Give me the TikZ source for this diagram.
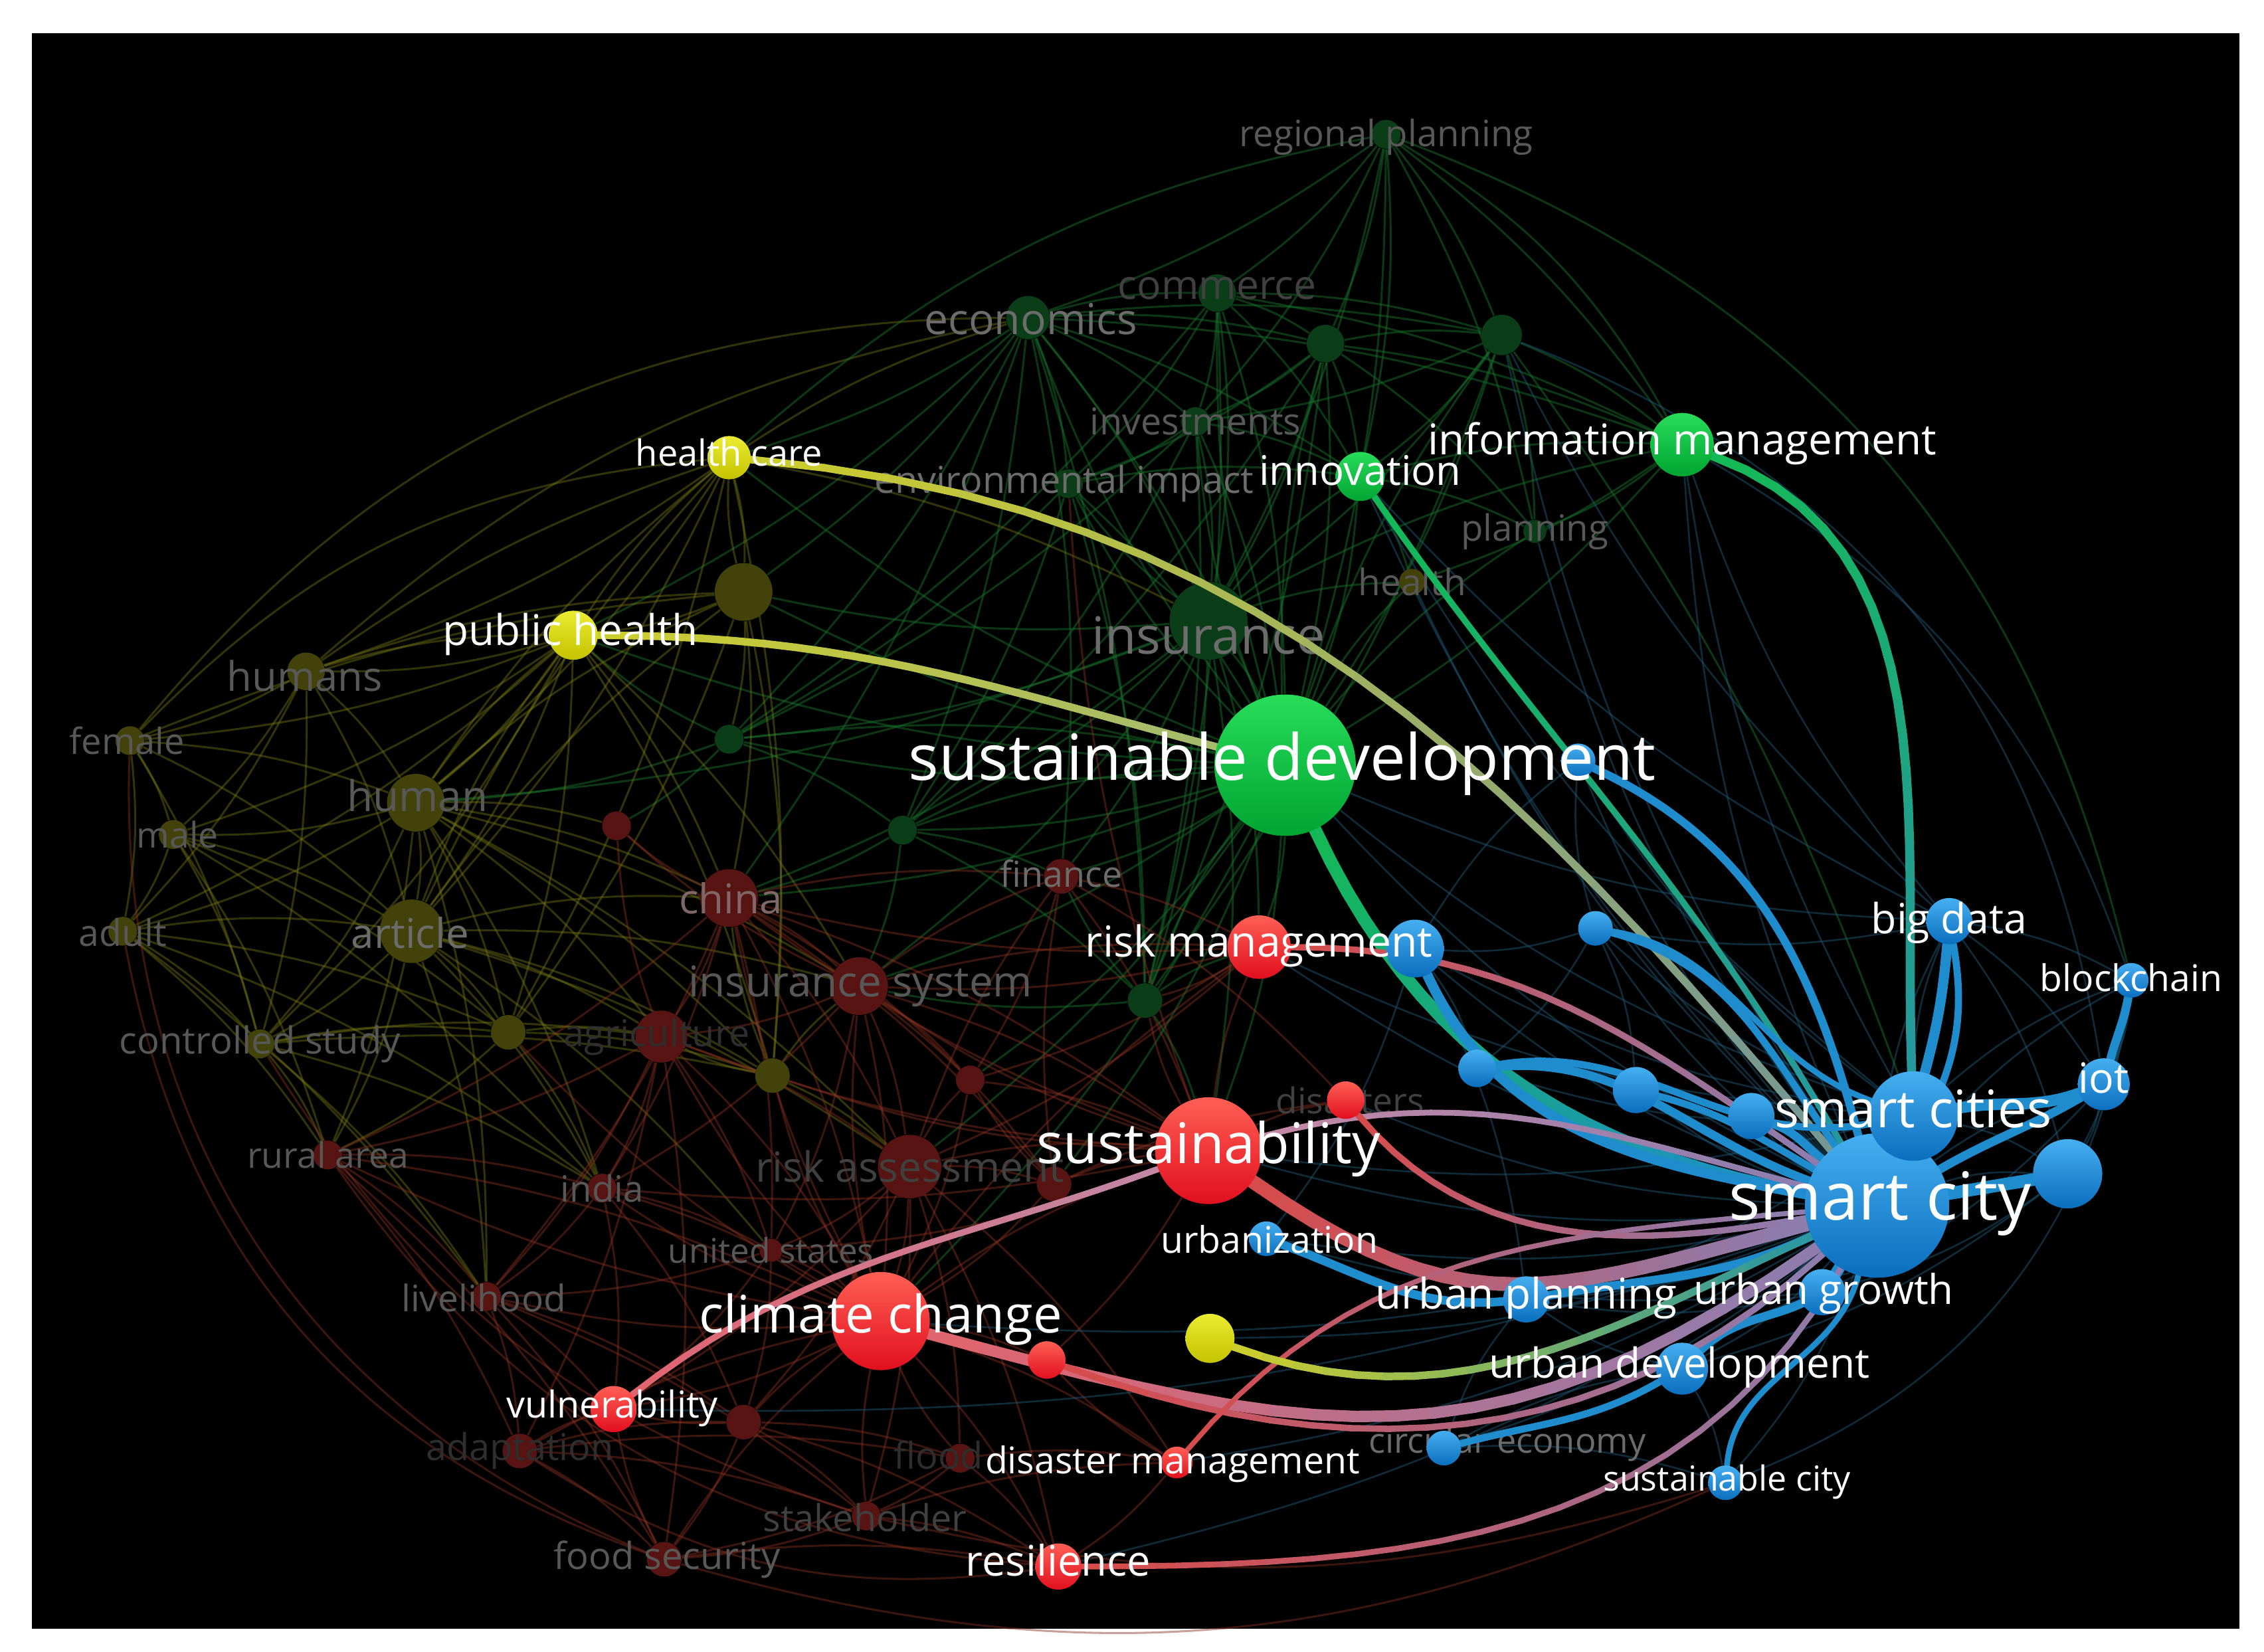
\documentclass[tikz,border=0pt]{standalone}
\usepackage{fontspec}
\setmainfont{Open Sans}
\pgfdeclarelayer{Lbg}
\pgfdeclarelayer{Lfe}
\pgfdeclarelayer{Ldn}
\pgfdeclarelayer{Ldl}
\pgfdeclarelayer{Lbe}
\pgfdeclarelayer{Llab}
\pgfsetlayers{Lbg,Lfe,Ldn,Ldl,Lbe,main,Llab}
\definecolor{bluT}{RGB}{70,175,240}
\definecolor{bluB}{RGB}{10,110,190}
\definecolor{grnT}{RGB}{40,220,90}
\definecolor{grnB}{RGB}{0,165,50}
\definecolor{redT}{RGB}{255,95,85}
\definecolor{redB}{RGB}{225,15,30}
\definecolor{yelT}{RGB}{235,235,50}
\definecolor{yelB}{RGB}{195,195,0}
\definecolor{dgrn}{RGB}{11,62,24}
\definecolor{dred}{RGB}{88,20,18}
\definecolor{dyel}{RGB}{66,66,10}
\definecolor{fgr}{RGB}{22,110,42}
\definecolor{fye}{RGB}{115,115,20}
\definecolor{frd}{RGB}{135,48,32}
\definecolor{fbl}{RGB}{30,85,115}
\definecolor{eyel}{RGB}{205,205,45}
\definecolor{eyg}{RGB}{165,185,110}
\definecolor{egry}{RGB}{115,150,150}
\definecolor{egrn}{RGB}{20,185,85}
\definecolor{etea}{RGB}{40,150,160}
\definecolor{eblu}{RGB}{30,140,205}
\definecolor{ered}{RGB}{215,75,75}
\definecolor{epur}{RGB}{140,125,175}
\definecolor{epnk}{RGB}{225,100,110}
\definecolor{elpk}{RGB}{195,135,165}
\definecolor{gA}{RGB}{108,108,108}
\definecolor{gB}{RGB}{88,88,88}
\definecolor{gC}{RGB}{64,64,64}
\definecolor{gD}{RGB}{46,46,46}
\definecolor{gP}{RGB}{128,102,102}
\newcommand\gedge[6]{%
  \path (#1) to[#3]
    coordinate[pos=0](gq0) coordinate[pos=.05](gq1) coordinate[pos=.1](gq2)
    coordinate[pos=.15](gq3) coordinate[pos=.2](gq4) coordinate[pos=.25](gq5)
    coordinate[pos=.3](gq6) coordinate[pos=.35](gq7) coordinate[pos=.4](gq8)
    coordinate[pos=.45](gq9) coordinate[pos=.5](gq10) coordinate[pos=.55](gq11)
    coordinate[pos=.6](gq12) coordinate[pos=.65](gq13) coordinate[pos=.7](gq14)
    coordinate[pos=.75](gq15) coordinate[pos=.8](gq16) coordinate[pos=.85](gq17)
    coordinate[pos=.9](gq18) coordinate[pos=.95](gq19) coordinate[pos=1](gq20) (#2);
  \foreach \k in {0,...,19}{%
    \pgfmathtruncatemacro\kn{\k+1}%
    \pgfmathtruncatemacro\kp{\k*5+2}%
    \draw[line width=#6, line cap=round, color=#5!\kp!#4] (gq\k) -- (gq\kn);
  }%
}
\begin{document}
\begin{tikzpicture}[x=0.02cm,y=-0.02cm,
  bub/.style={circle,inner sep=0pt,minimum size=#1*0.04cm,draw=none},
  Nb/.style={bub=#1,top color=bluT,bottom color=bluB},
  Ng/.style={bub=#1,top color=grnT,bottom color=grnB},
  Nr/.style={bub=#1,top color=redT,bottom color=redB},
  Ny/.style={bub=#1,top color=yelT,bottom color=yelB},
  Dg/.style={bub=#1,fill=dgrn},
  Dr/.style={bub=#1,fill=dred},
  Dy/.style={bub=#1,fill=dyel},
  lab/.style={text=white,font=\fontsize{#1}{#1}\selectfont,inner sep=0pt,execute at begin node=\strut},
  dlab/.style 2 args={text=#2,font=\fontsize{#1}{#1}\selectfont,inner sep=0pt},
  fg/.style={draw=fgr,line width=.8pt,opacity=.5},
  fy/.style={draw=fye,line width=.8pt,opacity=.45},
  fr/.style={draw=frd,line width=.8pt,opacity=.45},
  fb/.style={draw=fbl,line width=.7pt,opacity=.5},
  be/.style={draw=eblu,line width=#1,line cap=round}]
\useasboundingbox (0,0) rectangle (1568,1144);
\begin{pgfonlayer}{Lbg}
\fill[white] (0,0) rectangle (1568,1144);
\fill[black] (22,23) rectangle (1551,1128);
\end{pgfonlayer}
% ---------- dim nodes ----------
\begin{pgfonlayer}{Ldn}
\node[Dg=10] (rp) at (960,93) {};
\node[Dg=15] (eco) at (712,220) {};
\node[Dg=13] (com) at (843,203) {};
\node[Dg=13] (gx1) at (918,238) {};
\node[Dg=14] (gx2) at (1040,232) {};
\node[Dg=10] (inv) at (828,292) {};
\node[Dg=27] (ins) at (837,430) {};
\node[Dg=10] (env) at (740,335) {};
\node[Dg=10] (gx3) at (505,512) {};
\node[Dg=10] (gx4) at (625,575) {};
\node[Dg=12] (gx5) at (793,693) {};
\node[Dg=8] (pl) at (1063,368) {};
\node[Dy=9] (hlth) at (978,403) {};
\node[Dy=20] (yx2) at (515,410) {};
\node[Dy=13] (hum) at (212,465) {};
\node[Dy=10] (fem) at (90,513) {};
\node[Dy=20] (hmn) at (288,556) {};
\node[Dy=10] (male) at (120,578) {};
\node[Dy=10] (adult) at (85,645) {};
\node[Dy=22] (art) at (285,645) {};
\node[Dy=10] (cs) at (180,723) {};
\node[Dy=12] (yx3) at (352,715) {};
\node[Dy=12] (yx4) at (535,745) {};
\node[Dr=20] (chn) at (505,622) {};
\node[Dr=20] (isy) at (595,683) {};
\node[Dr=18] (agr) at (458,718) {};
\node[Dr=22] (ra) at (630,808) {};
\node[Dr=12] (rx2) at (730,820) {};
\node[Dr=10] (rx3) at (427,572) {};
\node[Dr=12] (fin) at (735,607) {};
\node[Dr=10] (rx4) at (672,748) {};
\node[Dr=10] (rua) at (227,800) {};
\node[Dr=10] (ind) at (417,823) {};
\node[Dr=8] (us) at (534,866) {};
\node[Dr=10] (liv) at (337,898) {};
\node[Dr=12] (ada) at (360,1005) {};
\node[Dr=12] (rx5) at (515,985) {};
\node[Dr=10] (fld) at (665,1010) {};
\node[Dr=10] (stk) at (600,1050) {};
\node[Dr=12] (fs) at (460,1080) {};
\end{pgfonlayer}
% ---------- bright nodes ----------
\node[Nb=50] (sc) at (1300,835) {};
\node[Nb=31] (scs) at (1325,773) {};
\node[Nb=24] (bx1) at (1432,813) {};
\node[Nb=18] (iot) at (1457,751) {};
\node[Nb=12] (bc) at (1476,679) {};
\node[Nb=16] (bd) at (1350,638) {};
\node[Nb=12] (bx2) at (1105,643) {};
\node[Nb=20] (rmb) at (980,657) {};
\node[Nb=13] (bx3) at (1023,740) {};
\node[Nb=16] (bx4) at (1133,755) {};
\node[Nb=16] (bx5) at (1213,773) {};
\node[Nb=12] (ubz) at (877,858) {};
\node[Nb=16] (up) at (1057,900) {};
\node[Nb=16] (ug) at (1262,895) {};
\node[Nb=18] (ud) at (1165,948) {};
\node[Nb=12] (ce) at (1000,1003) {};
\node[Nb=12] (scy) at (1195,1027) {};
\node[Nb=12] (sdb) at (1093,527) {};
\node[Ng=49] (sd) at (890,530) {};
\node[Ng=22] (im) at (1165,308) {};
\node[Ng=17] (inn) at (942,330) {};
\node[Ny=15] (hc) at (505,317) {};
\node[Ny=17] (ph) at (397,440) {};
\node[Ny=17] (yb) at (838,927) {};
\node[Nr=37] (sus) at (837,797) {};
\node[Nr=34] (cc) at (610,915) {};
\node[Nr=22] (rm) at (872,656) {};
\node[Nr=13] (dis) at (932,762) {};
\node[Nr=13] (rx) at (725,942) {};
\node[Nr=16] (vul) at (425,976) {};
\node[Nr=11] (dm) at (815,1013) {};
\node[Nr=16] (res) at (733,1085) {};
% ---------- faint edges ----------
\begin{pgfonlayer}{Lfe}
\foreach \s/\tl in {rp/{eco,com,gx1,gx2,inv,ins,inn,im,sd,pl},
  eco/{com,gx1,gx2,inv,ins,inn,sd,gx3,gx4,gx5,env,hc,ph,yx2,im,fin,chn},
  com/{gx1,gx2,inv,ins,inn,im,sd,env,gx5,gx3},
  gx1/{gx2,inv,ins,inn,im,sd,pl,gx5,gx4,env},
  gx2/{im,inn,ins,sd,pl,scs,inv,gx5},
  inv/{ins,inn,sd,env,gx5,gx4,gx3},
  ins/{sd,gx3,gx4,gx5,inn,im,env,hlth,chn,isy,fin,rm,sus,hmn,yx2},
  env/{sd,inn,gx4,gx3,gx5},
  gx3/{gx4,sd,ph,hmn,rx3},
  gx4/{sd,gx5,fin,chn,isy},
  gx5/{sd,rm,sus,isy,fin},
  inn/{sd,im,pl,hlth},
  im/{sd,pl,hlth},
  sd/{fin,rm,gx4,eco,com,gx1,gx2,inv,env,gx3,chn,isy,hlth,pl,ph,hc,yx2,sus,cc,rx2,rx4,ra}}
  {\foreach \t in \tl {\draw[fg] (\s) to[bend left=8] (\t);}}
\foreach \s/\tl in {hum/{fem,hmn,male,adult,art,cs,yx2,ph,hc},
  fem/{hmn,male,adult,art,cs,yx2},
  hmn/{male,adult,art,cs,yx2,ph,hc,yx3,yx4,chn,rx3,isy,agr,ra,rua,ind,liv},
  male/{adult,art,cs,yx3,rua,ind},
  adult/{art,cs,yx3,rua,liv,ind},
  art/{cs,yx2,yx3,yx4,ph,agr,isy,chn,hc,rua,ind,liv,ra,us},
  cs/{yx3,yx4,rua,agr,ind,liv},
  yx2/{ph,hc,yx3,yx4,chn,gx3},
  ph/{hc,yx3,yx4,chn,art,hmn,hum,fem,male,adult,cs,isy},
  hc/{yx3,yx4,hum,hmn,art,yx2,ins,eco},
  yx3/{yx4,agr,rua,ind},
  yx4/{isy,ra,chn,agr}}
  {\foreach \t in \tl {\draw[fy] (\s) to[bend left=8] (\t);}}
\foreach \s/\tl in {chn/{isy,agr,ra,rx2,rx3,fin,rx4,rua,ind,us,liv,cc,sus},
  isy/{agr,ra,rx2,rx3,fin,rx4,ind,us,cc,sus,rm},
  agr/{ra,rx3,rua,ind,us,liv,ada,cc,fs},
  ra/{rx2,rx4,fin,us,cc,sus,fld,stk,res,dm,rx5,vul},
  rx2/{fin,rx4,sus,cc,dis},
  fin/{rx4,rm,sus,dis},
  rx4/{sus,cc},
  rua/{ind,liv,ada,fs,cc},
  ind/{us,liv,cc,vul,rx5},
  us/{cc,liv,rx5,vul},
  liv/{ada,fs,vul,rx5,stk},
  ada/{vul,fs,rx5,stk,fld,cc},
  rx5/{vul,fld,stk,fs,cc,res},
  fld/{stk,fs,res,dm,cc},
  stk/{fs,res,dm,cc},
  fs/{res,vul,cc},
  cc/{sus,vul,res,dm,rx,rm,chn,isy,agr,rua,ind,liv,yx3,yx4},
  sus/{rm,dis,rx,chn,isy,agr,ind,us,yx4,gx5,env},
  rm/{chn,isy,rx4,ra,gx5},
  dm/{res,rx}}
  {\foreach \t in \tl {\draw[fr] (\s) to[bend left=8] (\t);}}
\foreach \s/\tl in {sc/{im,inn,sdb,bx2,rmb,bx3,bx4,bx5,bd,bc,iot,bx1,ubz,up,ug,ud,ce,scy,rm,dis,sd,pl,hlth,gx2,yb,sus,cc,res,dm,vul},
  scs/{bx2,rmb,bx3,bd,bc,bx1,ug,ud,up,sdb,im,inn,sd,rm,sus},
  bd/{bc,iot,bx2,bx1,im,sd,inn,gx2},
  bc/{iot,bx1},
  iot/{bx1,ug},
  bx1/{ug,ud},
  bx2/{rmb,bx3,bx4,sdb},
  rmb/{bx3,up,ubz,sdb},
  ug/{up,ubz},
  ce/{scy,ud,up},
  ud/{scy,up,ug}}
  {\foreach \t in \tl {\draw[fb] (\s) to[bend left=10] (\t);}}
% hull arcs
\draw[fy] (fem) to[bend left=25] (eco);
\draw[fy] (fem) to[bend left=20] (hc);
\draw[fy] (hum) to[bend left=15] (eco);
\draw[fg] (hc) to[bend left=15] (rp);
\draw[fg] (rp) to[bend left=15] (im);
\draw[fg] (rp) to[bend left=28] (bc);
\draw[fb] (im) to[bend left=20] (bc);
\draw[fb] (gx2) to[bend left=30] (iot);
\draw[fr] (adult) to[bend right=30] (fs);
\draw[fr] (fem) to[bend right=35] (fs);
\draw[fr] (cs) to[bend right=20] (stk);
\draw[fr] (rua) to[bend right=25] (res);
\draw[fr] (ada) to[bend right=20] (res);
\draw[fr] (fs) to[bend right=20] (scy);
\draw[fr] (stk) to[bend right=15] (scy);
\draw[fb] (scy) to[bend right=30] (bc);
\end{pgfonlayer}
% ---------- dim labels ----------
\begin{pgfonlayer}{Ldl}
\node[dlab={14.3pt}{gB}] (l-rp) at (960,95) {regional planning};
\node[dlab={16.8pt}{gA}] (l-eco) at (714,221) {economics};
\node[dlab={15.9pt}{gC}] (l-com) at (843,200) {commerce};
\node[dlab={14.6pt}{gB}] (l-inv) at (828,292) {investments};
\node[dlab={14.6pt}{gA}] (l-env) at (737,335) {environmental impact};
\node[dlab={20.2pt}{gA}] (l-ins) at (837,440) {insurance};
\node[dlab={14.3pt}{gB}] (l-pl) at (1063,368) {planning};
\node[dlab={14.4pt}{gB}] (l-hlth) at (978,403) {health};
\node[dlab={16.1pt}{gB}] (l-hum) at (211,468) {humans};
\node[dlab={14.2pt}{gB}] (l-fem) at (88,513) {female};
\node[dlab={16.7pt}{gB}] (l-hmn) at (289,551) {human};
\node[dlab={14pt}{gB}] (l-male) at (123,578) {male};
\node[dlab={14.5pt}{gB}] (l-adult) at (85,646) {adult};
\node[dlab={16.2pt}{gA}] (l-art) at (284,646) {article};
\node[dlab={14.7pt}{gB}] (l-cs) at (180,723) {controlled study};
\node[dlab={16.2pt}{gP}] (l-chn) at (506,622) {china};
\node[dlab={14.1pt}{gA}] (l-fin) at (735,605) {finance};
\node[dlab={16.7pt}{gB}] (l-isy) at (596,683) {insurance system};
\node[dlab={14.6pt}{gD}] (l-agr) at (455,718) {agriculture};
\node[dlab={16.4pt}{gC}] (l-ra) at (630,808) {risk assessment};
\node[dlab={14pt}{gC}] (l-dis) at (935,762) {disasters};
\node[dlab={14pt}{gB}] (l-rua) at (227,800) {rural area};
\node[dlab={14.3pt}{gB}] (l-ind) at (417,823) {india};
\node[dlab={13.4pt}{gB}] (l-us) at (534,866) {united states};
\node[dlab={14.4pt}{gB}] (l-liv) at (335,899) {livelihood};
\node[dlab={14.6pt}{gD}] (l-ada) at (360,1005) {adaptation};
\node[dlab={14.6pt}{gD}] (l-fld) at (650,1008) {flood};
\node[dlab={14.6pt}{gC}] (l-stk) at (599,1051) {stakeholder};
\node[dlab={14.7pt}{gB}] (l-fs) at (462,1080) {food security};
\node[dlab={13.7pt}{gA}] (l-ce) at (1044,1000) {circular economy};
\end{pgfonlayer}
% ---------- bright edges ----------
\begin{pgfonlayer}{Lbe}
\gedge{hc}{sc}{out=-5,in=130}{eyel}{egry}{3pt}
\gedge{ph}{sd}{out=0,in=165}{eyel}{eyg}{3pt}
\gedge{inn}{sc}{out=-55,in=120}{egrn}{etea}{2.5pt}
\gedge{im}{scs}{out=-20,in=92}{egrn}{etea}{3.6pt}
\gedge{sd}{sc}{out=-65,in=170}{egrn}{eblu}{5pt}
\draw[be=3.2pt] (sdb) to[out=-25,in=105] (sc);
\draw[be=4pt] (rmb) to[out=-65,in=170] (sc);
\draw[be=3.4pt] (bx3) to[out=5,in=160] (sc);
\draw[be=2.8pt] (bx3) to[out=10,in=190] (scs);
\draw[be=2.8pt] (bx4) to[out=-15,in=150] (sc);
\draw[be=3.4pt] (bx5) to[out=-20,in=140] (sc);
\draw[be=2.8pt] (bx2) to[out=-15,in=125] (sc);
\draw[be=2.3pt] (bx2) to[out=-10,in=160] (scs);
\draw[be=4pt] (bd) to[out=-95,in=75] (scs);
\draw[be=2.8pt] (bd) to[out=-80,in=60] (sc);
\draw[be=3.4pt] (bc) to[out=-100,in=75] (iot);
\draw[be=4.5pt] (iot) to[out=200,in=10] (scs);
\draw[be=3.4pt] (iot) to[out=-150,in=30] (sc);
\draw[be=5pt] (bx1) -- (sc);
\draw[be=6pt] (scs) -- (sc);
\draw[be=3.4pt] (ubz) to[out=-20,in=185] (up);
\draw[be=3.4pt] (up) to[out=10,in=205] (sc);
\draw[be=3.4pt] (ug) -- (sc);
\draw[be=3.4pt] (ud) to[out=45,in=240] (sc);
\draw[be=2.8pt] (ce) to[out=15,in=210] (ud);
\draw[be=2.3pt] (scy) to[out=85,in=255] (sc);
\gedge{rm}{sc}{out=0,in=145}{ered}{epur}{2.5pt}
\gedge{vul}{sus}{out=38,in=200}{epnk}{elpk}{2.5pt}
\gedge{sus}{sc}{out=15,in=165}{elpk}{epur}{2.3pt}
\gedge{sus}{sc}{out=-35,in=195,looseness=1.2}{ered}{epur}{5.5pt}
\gedge{dis}{sc}{out=-50,in=190}{ered}{epur}{2.5pt}
\gedge{cc}{sc}{out=-15,in=215,looseness=1.15}{epnk}{epur}{4.5pt}
\gedge{rx}{sc}{out=-20,in=222}{ered}{epur}{2.5pt}
\gedge{dm}{sc}{out=50,in=185}{ered}{epur}{2pt}
\gedge{res}{sc}{out=0,in=240}{ered}{epur}{2.3pt}
\gedge{yb}{sc}{out=-20,in=205}{eyel}{etea}{3pt}
\end{pgfonlayer}
% ---------- bright labels ----------
\begin{pgfonlayer}{Llab}
\node[lab=25.1pt] (l-sd) at (888,530) {sustainable development};
\node[lab=26.1pt] (l-sc) at (1302,835) {smart city};
\node[lab=22.1pt] (l-sus) at (837,797) {sustainability};
\node[lab=20.4pt] (l-cc) at (610,915) {climate change};
\node[lab=20.4pt] (l-scs) at (1325,773) {smart cities};
\node[lab=16.7pt] (l-im) at (1165,308) {information management};
\node[lab=16.8pt] (l-rm) at (872,656) {risk management};
\node[lab=16.1pt] (l-inn) at (942,330) {innovation};
\node[lab=16.7pt] (l-ph) at (395,440) {public health};
\node[lab=14.2pt] (l-hc) at (505,317) {health care};
\node[lab=14.5pt] (l-ubz) at (879,862) {urbanization};
\node[lab=16.7pt] (l-up) at (1057,900) {urban planning};
\node[lab=16.2pt] (l-ug) at (1263,897) {urban growth};
\node[lab=16.3pt] (l-ud) at (1163,948) {urban development};
\node[lab=16.4pt] (l-bd) at (1350,640) {big data};
\node[lab=16.4pt] (l-iot) at (1457,751) {iot};
\node[lab=14.5pt] (l-bc) at (1476,681) {blockchain};
\node[lab=14.6pt] (l-vul) at (424,976) {vulnerability};
\node[lab=14.5pt] (l-dm) at (812,1015) {disaster management};
\node[lab=16.6pt] (l-res) at (733,1085) {resilience};
\node[lab=13.6pt] (l-scy) at (1196,1027) {sustainable city};
\end{pgfonlayer}
\end{tikzpicture}
\end{document}
